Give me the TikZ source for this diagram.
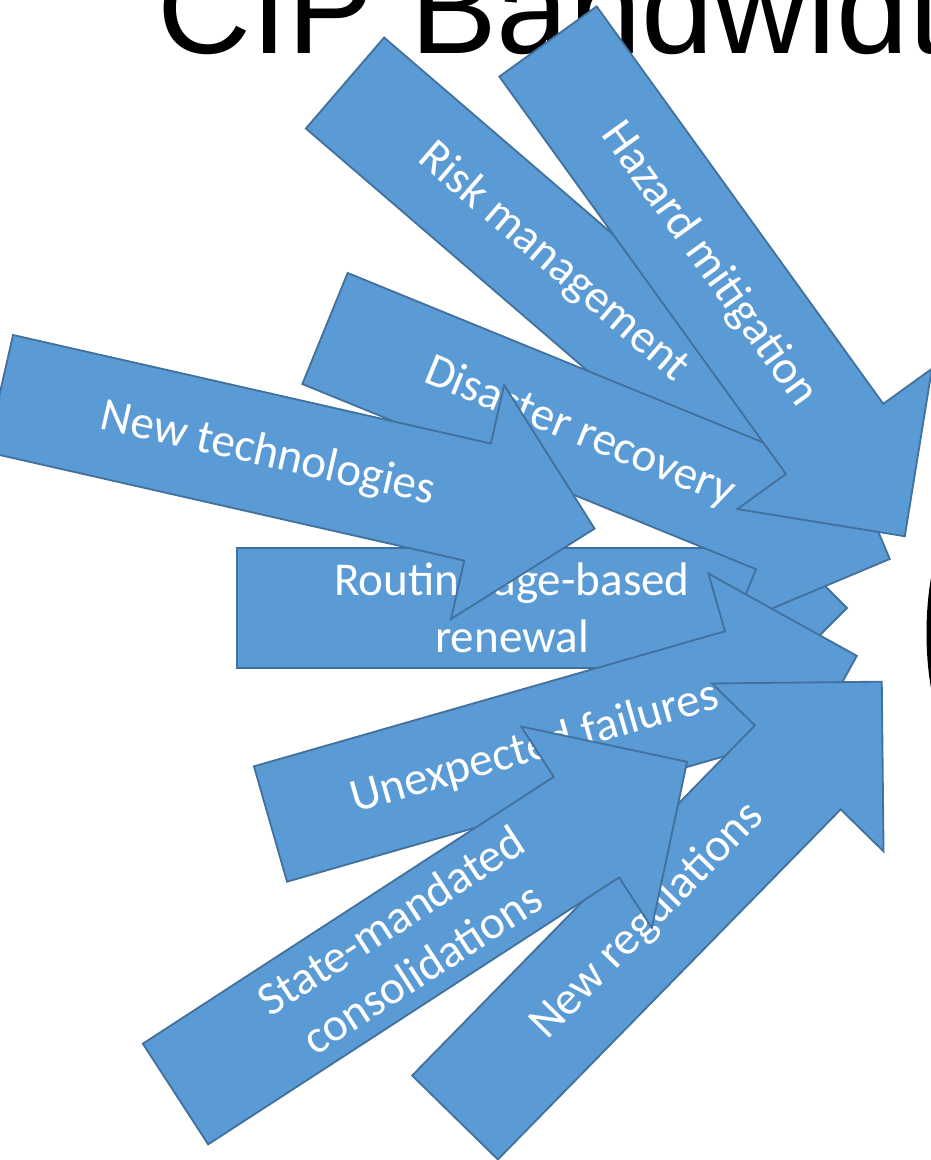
\documentclass[tikz,border=0pt]{standalone}
\usepackage{fontspec}
\setmainfont{Carlito}
\newfontfamily\titlefont{Liberation Sans}
\usepackage{xcolor}
\usepackage{tikz}

\definecolor{arrowfill}{HTML}{5B9BD5}
\definecolor{arrowline}{HTML}{41719C}

\tikzset{
    arrowbody/.style={fill=arrowfill, draw=arrowline, line width=1.3pt, line join=miter},
    arrowlabel/.style={text=white, font=\fontsize{33.5}{40.5}\selectfont, align=center, inner sep=0pt},
    titletext/.style={font=\titlefont\fontsize{92.5}{110}\selectfont, inner sep=0pt}
}

% name, tail x, tail y, angle, label
\newcommand{\blockarrow}[5]{%
    \begin{scope}[shift={(#2,#3)}, rotate=#4]
        \draw[arrowbody] (0,-60) -- (490,-60) -- (490,-120) -- (610,0) -- (490,120) -- (490,60) -- (0,60) -- cycle;
        \node[arrowlabel, rotate=#4] (#1) at (275,0) {#5};
    \end{scope}}

\begin{document}
\begin{tikzpicture}[x=0.025cm, y=-0.025cm]
        \useasboundingbox (0,0) rectangle (930,1160);
        \node[titletext, anchor=base west] (title) at (157,53) {CIP Bandwidth};
        \fill (931,578) .. controls (925,612) and (925,654) .. (931,688) -- cycle;

        \blockarrow{routine}{237}{608}{0}{Routine age-based\\renewal}
        \blockarrow{risk}{345}{83}{-40.7}{Risk management}
        \blockarrow{disaster}{325}{328.5}{-22.2}{Disaster recovery}
        \blockarrow{hazard}{548}{41.5}{-54.2}{Hazard mitigation}
        \blockarrow{newtech}{-0.25}{393.5}{-12.8}{New technologies}
        \blockarrow{unexpected}{270.5}{824}{16}{Unexpected failures}
        \blockarrow{newregs}{455}{1117.5}{45.6}{New regulations}
        \blockarrow{statemand}{175.5}{1094}{33}{State-mandated\\consolidations}
    \end{tikzpicture}
\end{document}
